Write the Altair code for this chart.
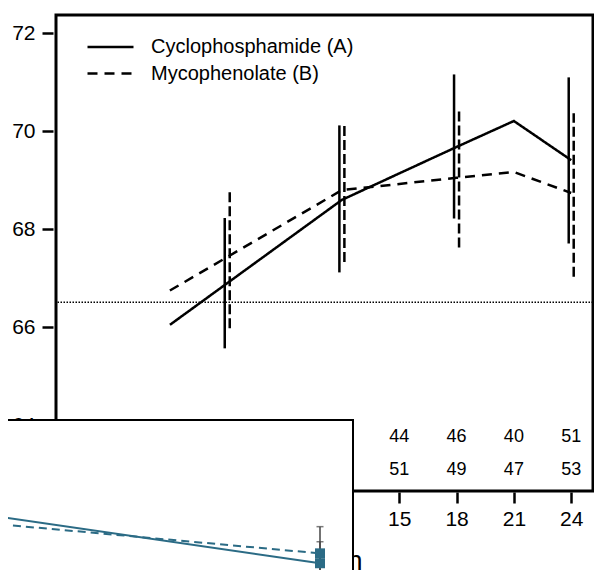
import altair as alt
import pandas as pd

FONT = "Liberation Sans"

# ---- main chart data ----
series_names = ["Cyclophosphamide (A)", "Mycophenolate (B)"]
line_months = [3, 12, 18, 21, 24]
cyc_mean = [66.05, 68.60, 69.68, 70.21, 69.41]
myc_mean = [66.75, 68.80, 69.05, 69.17, 68.74]

bar_months = [6, 12, 18, 24]
cyc_lo = [65.57, 67.12, 68.22, 67.71]
cyc_hi = [68.23, 70.12, 71.16, 71.10]
myc_lo = [65.98, 67.33, 67.63, 67.03]
myc_hi = [68.76, 70.12, 70.44, 70.37]

reference_value = [66.51]

count_months = [15, 18, 21, 24]
counts_a = [44, 46, 40, 51]
counts_b = [51, 49, 47, 53]

x_ticks = [3, 6, 9, 12, 15, 18, 21, 24]
y_ticks = [64, 66, 68, 70, 72]

# ---- overlapping inset data ----
inset_x = [0, 24]
inset_solid = [3.90, 0.94]
inset_dashed = [3.42, 1.57]
inset_err_x = [24, 24]
inset_err_lo = [-0.43, -0.13]
inset_err_hi = [2.31, 3.27]

TEAL = "#2b6b85"

lines_df = pd.DataFrame({
    "month": line_months * 2,
    "value": cyc_mean + myc_mean,
    "series": [series_names[0]] * len(line_months) + [series_names[1]] * len(line_months),
})
bars_a = pd.DataFrame({"month": bar_months, "lo": cyc_lo, "hi": cyc_hi})
bars_b = pd.DataFrame({"month": bar_months, "lo": myc_lo, "hi": myc_hi})
ref_df = pd.DataFrame({"value": reference_value})
cnt_a = pd.DataFrame({"month": count_months, "n": counts_a})
cnt_b = pd.DataFrame({"month": count_months, "n": counts_b})

xscale = alt.Scale(domain=[-2.96, 25.14], nice=False, zero=False)
yscale = alt.Scale(domain=[62.659, 72.373], nice=False, zero=False)

xaxis = alt.Axis(values=x_ticks, title="Month", grid=False, domain=False,
                 tickSize=11, offset=1, tickWidth=2.5, tickColor="black",
                 labelFontSize=21, labelFont=FONT, labelColor="black", labelPadding=5,
                 titleFontSize=27, titleFont=FONT, titleFontWeight="normal", titleColor="black",
                 titleBaseline="alphabetic", titleY=77)
yaxis = alt.Axis(values=y_ticks, title=None, grid=False, domain=False,
                 tickSize=11, offset=3, tickWidth=2.5, tickColor="black",
                 labelFontSize=21, labelFont=FONT, labelColor="black", labelPadding=7)


def X(field="month"):
    return alt.X(f"{field}:Q", scale=xscale, axis=xaxis)


def Y(field="value"):
    return alt.Y(f"{field}:Q", scale=yscale, axis=yaxis)


ref_rule = alt.Chart(ref_df).mark_rule(color="black", strokeWidth=1.5, strokeDash=[1.5, 1.5]).encode(
    y=Y("value")
)

lines = alt.Chart(lines_df).mark_line(color="black", strokeWidth=2.5).encode(
    x=X(), y=Y(),
    strokeDash=alt.StrokeDash(
        "series:N",
        scale=alt.Scale(domain=series_names, range=[[1, 0], [10, 7]]),
        legend=alt.Legend(orient="none", legendX=30, legendY=22, title=None, padding=0,
                          symbolType="stroke", symbolSize=2116, symbolStrokeWidth=2.5,
                          symbolStrokeColor="black", labelFontSize=20, labelFont=FONT,
                          labelColor="black", labelOffset=16, labelLimit=400,
                          clipHeight=20, rowPadding=6.5),
    ),
)

err_a = alt.Chart(bars_a).mark_rule(color="black", strokeWidth=2.5, xOffset=-2.5).encode(
    x=X(), y=Y("lo"), y2="hi:Q"
)
err_b = alt.Chart(bars_b).mark_rule(color="black", strokeWidth=2.5, xOffset=2.5, strokeDash=[10, 4]).encode(
    x=X(), y=Y("lo"), y2="hi:Q"
)

txt_a = alt.Chart(cnt_a).mark_text(fontSize=18, font=FONT, color="black", baseline="middle").encode(
    x=X(), y=alt.value(421.7), text="n:Q"
)
txt_b = alt.Chart(cnt_b).mark_text(fontSize=18, font=FONT, color="black", baseline="middle").encode(
    x=X(), y=alt.value(455), text="n:Q"
)

main = alt.layer(ref_rule, err_a, err_b, lines, txt_a, txt_b)

# ---- inset overlay ----
ixscale = alt.Scale(domain=[0, 24], range=[-56, 264], nice=False, zero=False)
iyscale = alt.Scale(domain=[0, 10], range=[563, 406], nice=False, zero=False)


def IX(field="ix"):
    return alt.X(f"{field}:Q", scale=ixscale, axis=None)


def IY(field="iv"):
    return alt.Y(f"{field}:Q", scale=iyscale, axis=None)


inset_box = alt.Chart(pd.DataFrame({"k": [0]})).mark_rect(fill="white", stroke="black", strokeWidth=2).encode(
    x=alt.value(-70), x2=alt.value(297), y=alt.value(405), y2=alt.value(600)
)
in_solid = alt.Chart(pd.DataFrame({"ix": inset_x, "iv": inset_solid})).mark_line(
    color=TEAL, strokeWidth=2).encode(x=IX(), y=IY())
in_dashed = alt.Chart(pd.DataFrame({"ix": inset_x, "iv": inset_dashed})).mark_line(
    color=TEAL, strokeWidth=2, strokeDash=[8, 5]).encode(x=IX(), y=IY())
err_df = pd.DataFrame({"ix": inset_err_x, "lo": inset_err_lo, "hi": inset_err_hi})
in_err = alt.Chart(err_df).mark_rule(color="#444444", strokeWidth=1.5).encode(
    x=IX(), y=IY("lo"), y2="hi:Q")
in_cap = alt.Chart(err_df).mark_tick(color="#444444", orient="horizontal", size=7, thickness=1.5).encode(
    x=IX(), y=IY("hi"))
end_df = pd.DataFrame({"ix": [inset_x[-1], inset_x[-1]], "iv": [inset_solid[-1], inset_dashed[-1]]})
in_sq = alt.Chart(end_df).mark_square(size=100, color=TEAL, opacity=1, filled=True).encode(
    x=IX(), y=IY())

inset = alt.layer(inset_box, in_solid, in_dashed, in_err, in_cap, in_sq)

chart = alt.layer(main, inset).resolve_scale(x="independent", y="independent").properties(
    width=537, height=476,
    padding={"left": 48, "top": 7, "right": 1, "bottom": 79},
    autosize=alt.AutoSizeParams(type="none"),
    background="white",
).configure_view(stroke="black", strokeWidth=3)

chart.save("out.html", embed_options={"renderer": "svg", "actions": False})
